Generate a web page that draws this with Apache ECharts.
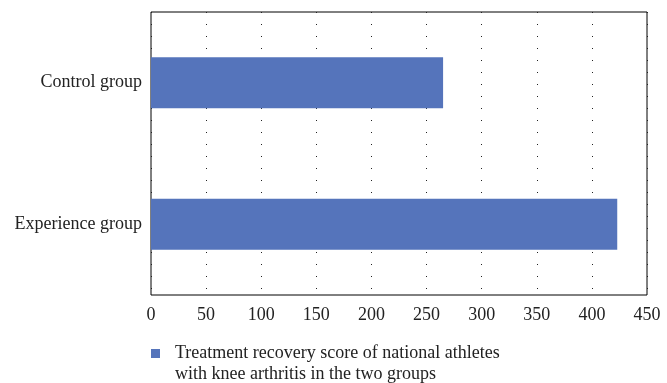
<!DOCTYPE html>
<html>
<head>
<meta charset="utf-8">
<script src="https://cdn.jsdelivr.net/npm/echarts@6/dist/echarts.min.js"></script>
<style>
  html, body { margin: 0; padding: 0; background: #fff; }
  #chart { width: 667px; height: 383px; }
</style>
</head>
<body>
<div id="chart"></div>
<script>
// Groups listed bottom to top along the category axis
const categories = ['Experience group', 'Control group'];
const scores = [423, 265];
const xTicks = [0, 50, 100, 150, 200, 250, 300, 350, 400, 450];
const seriesName = 'Treatment recovery score of national athletes\nwith knee arthritis in the two groups';

const serif = '"Liberation Serif", "DejaVu Serif", serif';
const chart = echarts.init(document.getElementById('chart'));

// Legend marker: a 9x9 square at the top of a 9x30 box, so it sits beside the first text line
const topSquare = 'path://M0,0L9,0L9,9L0,9Z M0,29.99L0.01,29.99L0.01,30L0,30Z';

chart.setOption({
  animation: false,
  grid: {
    left: 151, right: 20, top: 12, bottom: 88,
    show: true, borderColor: '#000', borderWidth: 1, backgroundColor: 'transparent'
  },
  legend: {
    left: 151, top: 343, padding: 0,
    icon: topSquare, itemWidth: 9, itemHeight: 30, itemGap: 0,
    textStyle: { fontFamily: serif, fontSize: 18, color: '#222', lineHeight: 21, padding: [0, 0, 0, 10] },
    data: [seriesName]
  },
  xAxis: {
    type: 'value',
    min: xTicks[0], max: xTicks[xTicks.length - 1], interval: 50,
    axisLine: { show: false },
    axisTick: { show: false },
    axisLabel: { fontFamily: serif, fontSize: 18, color: '#222', margin: 11 },
    splitLine: { show: true, lineStyle: { color: '#222', width: 1, type: [1, 11], dashOffset: 0 } }
  },
  yAxis: {
    type: 'category',
    data: categories,
    axisLine: { show: false },
    axisTick: { show: false },
    axisLabel: { fontFamily: serif, fontSize: 18, color: '#222', margin: 9 }
  },
  series: [{
    name: seriesName,
    type: 'bar',
    data: scores,
    barWidth: 51,
    itemStyle: { color: '#5574bb' }
  }]
});
</script>
</body>
</html>
